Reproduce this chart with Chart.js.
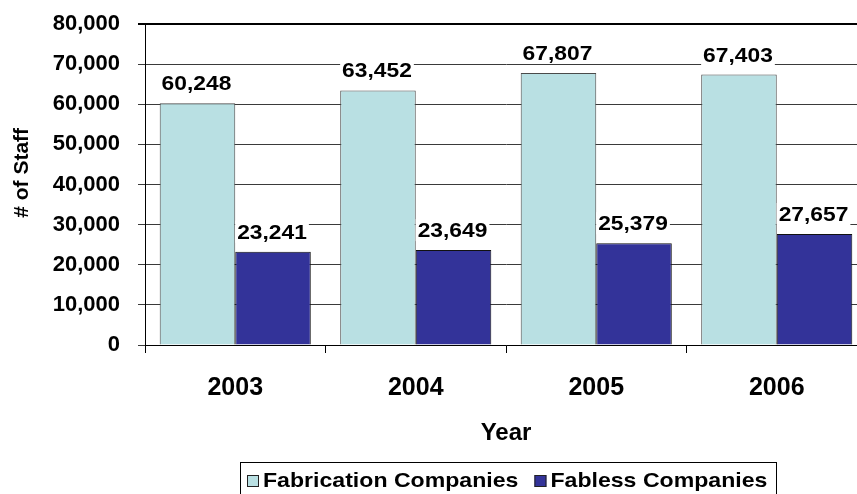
<!DOCTYPE html>
<html>
<head>
<meta charset="utf-8">
<script src="https://cdn.jsdelivr.net/npm/chart.js@4/dist/chart.umd.min.js"></script>
<style>
  html, body { margin: 0; padding: 0; background: #fff; overflow: hidden; width: 857px; height: 494px; }
  #wrap { width: 870px; height: 494px; }
</style>
</head>
<body>
<div id="wrap"><canvas id="chart" width="870" height="494"></canvas></div>
<script>
// Staff headcount by year
const years = ['2003', '2004', '2005', '2006'];
const fabricationStaff = [60248, 63452, 67807, 67403];
const fablessStaff = [23241, 23649, 25379, 27657];
const seriesNames = ['Fabrication Companies', 'Fabless Companies'];
const yStep = 10000;
const yMax = 80000;

const FONT = '"Liberation Sans", Arial, Helvetica, sans-serif';
const fmt = v => v.toLocaleString('en-US');

// Text drawn slightly widened, like the rest of the chart lettering
function wideText(ctx, txt, x, y, sx) {
  ctx.save();
  ctx.translate(x, y);
  ctx.scale(sx, 1);
  ctx.fillText(txt, 0, 0);
  ctx.restore();
}

// Heavy top edge of the plot area
const plotTopEdge = {
  id: 'plotTopEdge',
  beforeDatasetsDraw(chart) {
    const { ctx, chartArea } = chart;
    ctx.save();
    ctx.strokeStyle = '#000';
    ctx.lineWidth = 2;
    ctx.beginPath();
    ctx.moveTo(chartArea.left - 7, chartArea.top);
    ctx.lineTo(chartArea.right, chartArea.top);
    ctx.stroke();
    ctx.restore();
  }
};

// Value captions above each bar, on a white backing that hides the gridlines
const valueLabels = {
  id: 'valueLabels',
  afterDatasetsDraw(chart) {
    const ctx = chart.ctx;
    const sx = 1.14;
    ctx.save();
    ctx.font = 'bold 20px ' + FONT;
    ctx.textAlign = 'center';
    ctx.textBaseline = 'alphabetic';
    chart.data.datasets.forEach((ds, i) => {
      chart.getDatasetMeta(i).data.forEach((bar, j) => {
        const txt = fmt(ds.data[j]);
        const w = ctx.measureText(txt).width * sx;
        const base = bar.y - 13;
        const cx = bar.x - 1;
        ctx.fillStyle = '#ffffff';
        ctx.fillRect(cx - w / 2 - 2, base - 18, w + 4, 22);
        ctx.fillStyle = '#000000';
        wideText(ctx, txt, cx, base, sx);
      });
    });
    ctx.restore();
  }
};

// Boxed legend below the axis title
const boxedLegend = {
  id: 'boxedLegend',
  afterDraw(chart) {
    const ctx = chart.ctx;
    const sx = 1.1;
    ctx.save();
    const left = 240.5, top = 462.5, right = 776.5, bottom = 500;
    ctx.strokeStyle = '#000';
    ctx.lineWidth = 1;
    ctx.strokeRect(left, top, right - left, bottom - top);
    ctx.font = 'bold 21px ' + FONT;
    ctx.textBaseline = 'middle';
    ctx.textAlign = 'left';
    let x = 247;
    const cy = 481;
    chart.data.datasets.forEach(ds => {
      ctx.fillStyle = ds.backgroundColor;
      ctx.fillRect(x, cy - 6, 12, 12);
      ctx.strokeStyle = '#222';
      ctx.strokeRect(x + 0.5, cy - 5.5, 11, 11);
      ctx.fillStyle = '#000';
      wideText(ctx, ds.label, x + 16, cy, sx);
      x += 16 + ctx.measureText(ds.label).width * sx + 16;
    });
    ctx.restore();
  }
};

new Chart(document.getElementById('chart'), {
  type: 'bar',
  data: {
    labels: years,
    datasets: [
      { label: seriesNames[0], data: fabricationStaff, backgroundColor: '#b9e0e3', borderColor: '#4a4a4a', borderWidth: 1 },
      { label: seriesNames[1], data: fablessStaff, backgroundColor: '#333399', borderColor: '#111111', borderWidth: 1 }
    ]
  },
  options: {
    responsive: false,
    animation: false,
    devicePixelRatio: 1,
    layout: { autoPadding: false, padding: { left: 0, top: 24, right: 3, bottom: 0 } },
    datasets: { bar: { categoryPercentage: 0.837, barPercentage: 1.0 } },
    plugins: { legend: { display: false }, tooltip: { enabled: false } },
    scales: {
      x: {
        offset: true,
        grid: { offset: true, drawOnChartArea: false, drawTicks: true, tickLength: 8, color: '#000', lineWidth: 1 },
        border: { display: true, color: '#000', width: 1 },
        ticks: { color: '#000', font: { family: FONT, size: 25, weight: 'bold' }, padding: 20 },
        title: { display: true, text: 'Year', color: '#000', font: { family: FONT, size: 24, weight: 'bold' }, padding: { top: 0, bottom: 46 } },
        afterFit(scale) { scale.height = 149; scale.paddingLeft = 0; scale.paddingRight = 0; }
      },
      y: {
        min: 0, max: yMax,
        grid: { display: true, drawOnChartArea: true, color: '#3a3a3a', lineWidth: 1, tickLength: 7 },
        border: { display: true, color: '#000', width: 1 },
        ticks: { stepSize: yStep, color: '#000', font: { family: FONT, size: 22, weight: 'bold' }, padding: 18, callback: v => fmt(v) },
        title: { display: true, text: '    # of Staff', color: '#000', font: { family: FONT, size: 21, weight: 'bold' }, padding: { top: 10, bottom: 0 } },
        afterFit(scale) { scale.width = 145; scale.paddingTop = 0; scale.paddingBottom = 0; }
      }
    }
  },
  plugins: [plotTopEdge, valueLabels, boxedLegend]
});
</script>
</body>
</html>
